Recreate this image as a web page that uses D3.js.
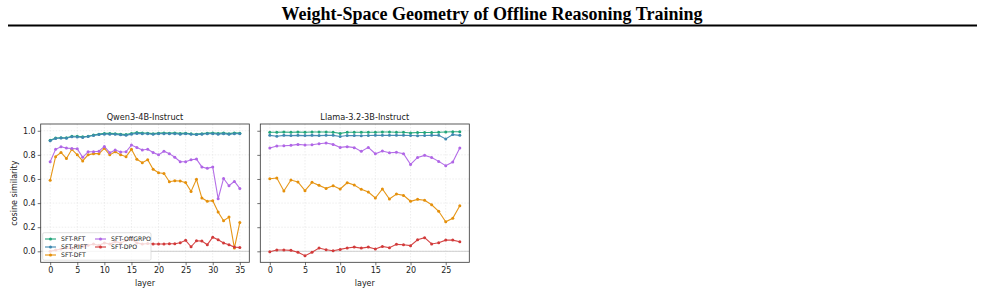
<!DOCTYPE html>
<html>
<head>
<meta charset="utf-8">
<script src="https://cdn.jsdelivr.net/npm/d3@7"></script>
<style>
  body { margin: 0; background: #fff; }
  .tick text { font-family: "DejaVu Sans", sans-serif; font-size: 8px; fill: #222; }
  .tick line { stroke: #333; stroke-width: 0.7; }
  .grid line { stroke: #e2e2e2; stroke-dasharray: 1.5,1.5; stroke-width: 0.6; }
</style>
</head>
<body>
<svg id="fig"></svg>
<script>
// ---- data ----
const seriesNames = ['SFT-RFT', 'SFT-RIFT', 'SFT-DFT', 'SFT-OffGRPO', 'SFT-DPO'];
const seriesColors = ['#22a57a', '#3f88b0', '#e5900b', '#b066e6', '#d23a3a'];

const qwenRFT = [0.922,0.94,0.942,0.942,0.955,0.955,0.95,0.955,0.965,0.972,0.978,0.978,0.976,0.972,0.968,0.978,0.985,0.982,0.98,0.976,0.98,0.982,0.98,0.982,0.978,0.98,0.975,0.972,0.976,0.98,0.982,0.978,0.982,0.976,0.982,0.98];
const qwenRIFT = [0.918,0.936,0.94,0.938,0.95,0.948,0.945,0.952,0.96,0.968,0.972,0.972,0.97,0.966,0.962,0.972,0.978,0.976,0.975,0.97,0.975,0.976,0.975,0.976,0.972,0.975,0.97,0.968,0.972,0.975,0.976,0.972,0.976,0.97,0.976,0.975];
const qwenDFT = [0.59,0.785,0.82,0.77,0.846,0.80,0.75,0.80,0.81,0.81,0.854,0.80,0.826,0.80,0.785,0.846,0.763,0.735,0.76,0.68,0.652,0.645,0.577,0.585,0.583,0.57,0.497,0.597,0.442,0.415,0.42,0.326,0.254,0.284,0.027,0.24];
const qwenOffGRPO = [0.743,0.846,0.867,0.856,0.853,0.85,0.78,0.826,0.826,0.83,0.87,0.818,0.84,0.824,0.826,0.881,0.862,0.84,0.846,0.82,0.80,0.83,0.81,0.78,0.743,0.743,0.76,0.765,0.70,0.688,0.70,0.436,0.605,0.544,0.58,0.522];
const qwenDPO = [0.0,0.01,0.02,0.03,0.02,0.05,0.04,0.05,0.06,0.05,0.07,0.06,0.08,0.07,0.09,0.10,0.07,0.06,0.065,0.061,0.061,0.061,0.063,0.063,0.071,0.091,0.038,0.088,0.085,0.055,0.117,0.096,0.069,0.055,0.035,0.032];

const llamaRFT = [0.988,0.988,0.99,0.988,0.99,0.988,0.99,0.99,0.99,0.988,0.978,0.988,0.988,0.988,0.988,0.988,0.99,0.99,0.988,0.988,0.982,0.985,0.985,0.985,0.988,0.99,0.992,0.992];
const llamaRIFT = [0.962,0.955,0.962,0.96,0.962,0.96,0.962,0.96,0.962,0.962,0.952,0.96,0.96,0.958,0.96,0.962,0.962,0.962,0.962,0.962,0.96,0.958,0.96,0.962,0.962,0.932,0.968,0.962];
const llamaDFT = [0.602,0.608,0.50,0.591,0.575,0.503,0.572,0.547,0.522,0.544,0.517,0.569,0.55,0.514,0.492,0.442,0.517,0.434,0.475,0.464,0.415,0.431,0.423,0.386,0.332,0.245,0.274,0.378];
const llamaOffGRPO = [0.857,0.873,0.875,0.879,0.887,0.882,0.884,0.892,0.898,0.887,0.862,0.868,0.86,0.829,0.862,0.809,0.832,0.818,0.821,0.809,0.721,0.779,0.796,0.779,0.746,0.71,0.74,0.857];
const llamaDPO = [-0.003,0.011,0.011,0.008,-0.008,-0.036,-0.008,0.027,0.013,0.005,0.016,0.027,0.035,0.027,0.035,0.019,0.041,0.03,0.058,0.055,0.047,0.096,0.113,0.061,0.071,0.093,0.093,0.08];

const yTicks = [0.0, 0.2, 0.4, 0.6, 0.8, 1.0];
const qwenXTicks = [0, 5, 10, 15, 20, 25, 30, 35];
const llamaXTicks = [0, 5, 10, 15, 20, 25];

const panels = [
  {title: 'Qwen3-4B-Instruct', series: [qwenRFT, qwenRIFT, qwenDFT, qwenOffGRPO, qwenDPO],
   xTicks: qwenXTicks, left: 40.7, width: 208.6, showYLabels: true, legend: true},
  {title: 'Llama-3.2-3B-Instruct', series: [llamaRFT, llamaRIFT, llamaDFT, llamaOffGRPO, llamaDPO],
   xTicks: llamaXTicks, left: 260.3, width: 209, showYLabels: false, legend: false}
];

const W = 985, H = 298;
const plotTop = 124, plotBottom = 262.3;
const font = '"DejaVu Sans", sans-serif';

const svg = d3.select('#fig').attr('width', W).attr('height', H);

// page heading + rule
svg.append('text')
    .attr('x', W / 2 - 0.5).attr('y', 19.5)
    .attr('text-anchor', 'middle')
    .style('font-family', '"Liberation Serif", "Times New Roman", serif')
    .style('font-weight', 'bold')
    .style('font-size', '18px')
    .text('Weight-Space Geometry of Offline Reasoning Training');
svg.append('line')
    .attr('x1', 8).attr('x2', 977).attr('y1', 25.5).attr('y2', 25.5)
    .attr('stroke', '#000').attr('stroke-width', 2);

const yScale = d3.scaleLinear().domain([-0.091, 1.056]).range([plotBottom, plotTop]);

panels.forEach(p => {
  const n = p.series[0].length - 1;
  const pad = n * 0.05;
  const x = d3.scaleLinear().domain([-pad, n + pad]).range([p.left, p.left + p.width]);
  const g = svg.append('g');

  // grid
  g.append('g').attr('class', 'grid')
    .selectAll('line.gx').data(p.xTicks).join('line')
      .attr('x1', d => x(d)).attr('x2', d => x(d))
      .attr('y1', plotTop).attr('y2', plotBottom);
  g.append('g').attr('class', 'grid')
    .selectAll('line.gy').data(yTicks).join('line')
      .attr('x1', p.left).attr('x2', p.left + p.width)
      .attr('y1', d => yScale(d)).attr('y2', d => yScale(d));

  // zero line
  g.append('line')
    .attr('x1', p.left).attr('x2', p.left + p.width)
    .attr('y1', yScale(0)).attr('y2', yScale(0))
    .attr('stroke', '#c4c4c4').attr('stroke-width', 0.8);

  // series
  const line = d3.line().x((d, i) => x(i)).y(d => yScale(d));
  p.series.forEach((s, k) => {
    g.append('path')
      .attr('d', line(s))
      .attr('fill', 'none')
      .attr('stroke', seriesColors[k])
      .attr('stroke-width', 1.1)
      .attr('opacity', 0.95);
    g.selectAll(null).data(s).join('circle')
      .attr('cx', (d, i) => x(i)).attr('cy', d => yScale(d))
      .attr('r', 1.5)
      .attr('fill', seriesColors[k]);
  });

  // axes
  const xAxis = d3.axisBottom(x).tickValues(p.xTicks).tickSize(3).tickPadding(2).tickFormat(d3.format('d'));
  g.append('g').attr('transform', `translate(0,${plotBottom})`).call(xAxis)
    .call(a => a.select('.domain').remove());
  const yAxis = d3.axisLeft(yScale).tickValues(yTicks).tickSize(3).tickPadding(2)
    .tickFormat(p.showYLabels ? d3.format('.1f') : () => '');
  g.append('g').attr('transform', `translate(${p.left},0)`).call(yAxis)
    .call(a => a.select('.domain').remove());

  // frame
  g.append('rect')
    .attr('x', p.left).attr('y', plotTop)
    .attr('width', p.width).attr('height', plotBottom - plotTop)
    .attr('fill', 'none').attr('stroke', '#333').attr('stroke-width', 0.8);

  // titles
  g.append('text')
    .attr('x', p.left + p.width / 2).attr('y', 120)
    .attr('text-anchor', 'middle')
    .style('font-family', font).style('font-size', '8.2px').style('fill', '#222')
    .text(p.title);
  g.append('text')
    .attr('x', p.left + p.width / 2).attr('y', 286)
    .attr('text-anchor', 'middle')
    .style('font-family', font).style('font-size', '8px').style('fill', '#222')
    .text('layer');

  if (p.showYLabels) {
    g.append('text')
      .attr('transform', `translate(17,${(plotTop + plotBottom) / 2}) rotate(-90)`)
      .attr('text-anchor', 'middle')
      .style('font-family', font).style('font-size', '8px').style('fill', '#222')
      .text('cosine similarity');
  }

  if (p.legend) {
    const lg = g.append('g');
    lg.append('rect')
      .attr('x', 42.7).attr('y', 232.7).attr('width', 108.3).attr('height', 27.5)
      .attr('rx', 1.5)
      .attr('fill', '#fff').attr('fill-opacity', 0.8)
      .attr('stroke', '#ccc').attr('stroke-width', 0.6);
    const cols = [45, 95];
    seriesNames.forEach((name, k) => {
      const col = k < 3 ? 0 : 1;
      const row = k < 3 ? k : k - 3;
      const cy = 239 + row * 8;
      const x0 = cols[col];
      lg.append('line')
        .attr('x1', x0).attr('x2', x0 + 11).attr('y1', cy).attr('y2', cy)
        .attr('stroke', seriesColors[k]).attr('stroke-width', 1.1);
      lg.append('circle').attr('cx', x0 + 5.5).attr('cy', cy).attr('r', 1.5)
        .attr('fill', seriesColors[k]);
      lg.append('text')
        .attr('x', x0 + 16).attr('y', cy + 2.2)
        .style('font-family', font).style('font-size', '6.2px').style('fill', '#222')
        .text(name);
    });
  }
});
</script>
</body>
</html>
